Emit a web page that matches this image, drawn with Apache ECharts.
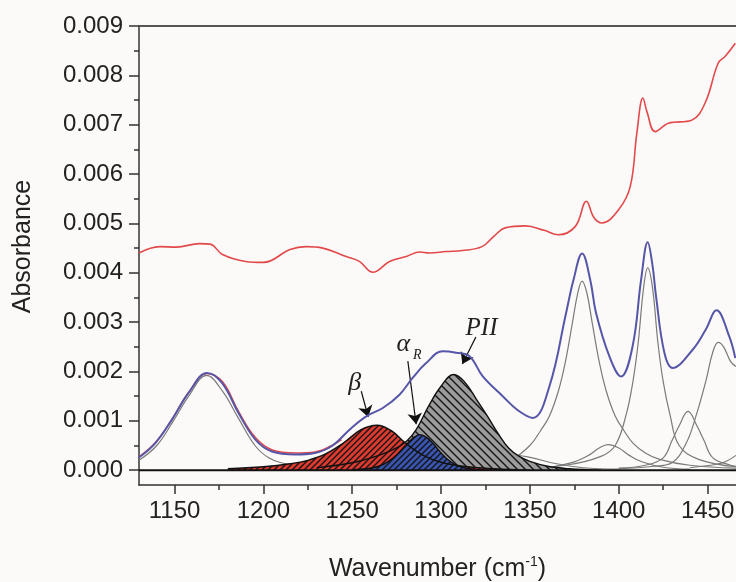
<!DOCTYPE html>
<html>
<head>
<meta charset="utf-8">
<script src="https://cdn.jsdelivr.net/npm/echarts@6/dist/echarts.min.js"></script>
<style>
  html, body { margin: 0; padding: 0; background: #fcfaf8; }
  #chart { width: 736px; height: 582px; }
</style>
</head>
<body>
<div id="chart"></div>
<script>
// axis ticks
const xMajor = [1150, 1200, 1250, 1300, 1350, 1400, 1450];
const xMinor = [1175, 1225, 1275, 1325, 1375, 1425];
const yMajor = [0, 0.001, 0.002, 0.003, 0.004, 0.005, 0.006, 0.007, 0.008, 0.009];
const yMinor = [0.0005, 0.0015, 0.0025, 0.0035, 0.0045, 0.0055, 0.0065, 0.0075, 0.0085];

// measured spectrum (offset, upper red trace)
const rawSpectrum = [
  [1130, 0.00440], [1141.7, 0.00453], [1151, 0.00452], [1164, 0.00459], [1170, 0.00458],
  [1177, 0.00437], [1190, 0.00423], [1200, 0.00421], [1215, 0.00447], [1224, 0.00453],
  [1233.5, 0.00450], [1246.6, 0.00433], [1254, 0.00423], [1261.6, 0.00401], [1271, 0.00423],
  [1280.4, 0.00433], [1288, 0.00442], [1293.5, 0.00440], [1303, 0.00443], [1312, 0.00445],
  [1323, 0.00453], [1330, 0.00475], [1336, 0.00491], [1347.5, 0.00495], [1358, 0.00486],
  [1366, 0.00477], [1375.6, 0.00494], [1381.8, 0.00545], [1386, 0.00512], [1390.5, 0.00501],
  [1400, 0.00528], [1406.5, 0.00575], [1410.2, 0.00683], [1413.6, 0.00754], [1416, 0.00725],
  [1420.5, 0.00686], [1428, 0.00703], [1441, 0.00709], [1448.6, 0.00744], [1456, 0.00825],
  [1459.8, 0.00838], [1465.6, 0.00865]
];

// measured spectrum (baseline corrected, visible part under the fit)
const dataSpectrum = [
  [1130, 0.00027], [1139, 0.00055], [1148.6, 0.00103], [1158, 0.00158], [1168.3, 0.00196],
  [1177, 0.00179], [1186, 0.00119], [1195.5, 0.00066], [1205, 0.00041], [1218, 0.00035],
  [1229, 0.00037], [1238.6, 0.00050], [1244, 0.00062]
];

// fitted sum
const fitSum = [
  [1130, 0.00026], [1139.2, 0.00055], [1148.6, 0.00103], [1158, 0.00157], [1168.3, 0.00197],
  [1176.7, 0.00177], [1186, 0.00116], [1195.5, 0.00062], [1204.8, 0.00038], [1218, 0.00032],
  [1229, 0.00035], [1238.6, 0.00049], [1248.5, 0.00082], [1257.9, 0.00109], [1267.2, 0.00126],
  [1276.6, 0.00153], [1284, 0.00187], [1291.6, 0.00217], [1301, 0.00241], [1308.5, 0.00238],
  [1316, 0.00231], [1323.5, 0.00190], [1334.7, 0.00150], [1343, 0.00122], [1351.6, 0.00106],
  [1361, 0.00170], [1370.4, 0.00319], [1374.5, 0.00385], [1379.4, 0.00439], [1384, 0.00385],
  [1387.2, 0.00319], [1394.7, 0.00231], [1401.3, 0.00190], [1407.8, 0.00251], [1412.6, 0.00386],
  [1416.3, 0.00462], [1419, 0.00415], [1421, 0.00352], [1425.7, 0.00238], [1430.3, 0.00207],
  [1441.6, 0.00244], [1449, 0.00285], [1455, 0.00324], [1462.2, 0.00271], [1465.6, 0.00227]
];

// hatched bands
const betaBand = [
  [1180, 0.00003], [1200, 0.00007], [1215, 0.00013], [1225, 0.00020], [1235, 0.00033],
  [1245, 0.00055], [1255, 0.00082], [1264, 0.00091], [1272, 0.00080], [1280, 0.00055],
  [1290, 0.00030], [1300, 0.00016], [1315, 0.00007], [1330, 0.00003], [1350, 0]
];
const alphaBand = [
  [1250, 0.00001], [1260, 0.00004], [1265, 0.00008], [1270, 0.00017], [1275, 0.00031],
  [1280, 0.00050], [1284, 0.00064], [1288, 0.00072], [1292, 0.00066], [1296, 0.00052],
  [1300, 0.00035], [1305, 0.00018], [1310, 0.00008], [1318, 0.00002], [1330, 0]
];
const ppiiBand = [
  [1230, 0.00005], [1250, 0.00015], [1265, 0.00030], [1275, 0.00045], [1281, 0.00060],
  [1286, 0.00082], [1293, 0.00130], [1300, 0.00170], [1307, 0.00194], [1313, 0.00180],
  [1320, 0.00143], [1326, 0.00110], [1332, 0.00075], [1338, 0.00045], [1344, 0.00028],
  [1350, 0.00018], [1360, 0.00008], [1372, 0.00003], [1390, 0]
];

// other fitted components (grey)
const band1168 = [
  [1130, 0.00020], [1140, 0.00050], [1149, 0.00098], [1158, 0.00150], [1168, 0.00192],
  [1177, 0.00160], [1186, 0.00105], [1195.5, 0.00049], [1203, 0.00025], [1210, 0.00015],
  [1225, 0.00006], [1250, 0.00002], [1280, 0]
];
const band1342 = [
  [1300, 0.00003], [1320, 0.00010], [1335, 0.00024], [1342, 0.00030], [1350, 0.00026],
  [1365, 0.00013], [1380, 0.00005], [1400, 0.00002]
];
const band1379 = [
  [1300, 0.00005], [1330, 0.00012], [1340, 0.00022], [1350, 0.00050], [1356, 0.00080],
  [1361, 0.00110], [1366, 0.00160], [1370, 0.00220], [1374, 0.00300], [1377, 0.00360],
  [1379.4, 0.00383], [1382, 0.00360], [1385, 0.00300], [1389, 0.00220], [1393, 0.00160],
  [1398, 0.00110], [1403, 0.00080], [1408, 0.00055], [1415, 0.00035], [1423, 0.00022],
  [1440, 0.00010], [1466, 0.00004]
];
const band1394 = [
  [1360, 0.00005], [1375, 0.00017], [1383, 0.00030], [1389, 0.00045], [1394, 0.00052],
  [1400, 0.00045], [1406, 0.00030], [1413, 0.00017], [1425, 0.00006], [1440, 0.00002]
];
const band1416 = [
  [1340, 0.00004], [1370, 0.00010], [1390, 0.00028], [1398, 0.00050], [1404, 0.00110],
  [1408, 0.00180], [1411, 0.00260], [1414, 0.00370], [1416.3, 0.00410], [1419, 0.00370],
  [1422, 0.00260], [1425, 0.00180], [1429, 0.00110], [1434, 0.00050], [1445, 0.00022],
  [1466, 0.00007]
];
const band1439 = [
  [1400, 0.00004], [1415, 0.00010], [1425, 0.00025], [1430, 0.00060], [1434, 0.00090],
  [1439, 0.00119], [1444, 0.00090], [1448, 0.00060], [1453, 0.00025], [1463, 0.00010],
  [1466, 0.00008]
];
const band1456 = [
  [1400, 0.00003], [1420, 0.00008], [1430, 0.00015], [1438, 0.00055], [1443.5, 0.00110],
  [1449, 0.00180], [1453, 0.00240], [1456, 0.00259], [1459, 0.00250], [1463, 0.00220],
  [1466, 0.00210]
];
const band1480 = [
  [1440, 0.00005], [1455, 0.00012], [1460, 0.00017], [1466, 0.00030]
];

// annotation anchors (data coordinates)
const labelBeta = [1251.4, 0.00177];
const labelAlpha = [1278.8, 0.00256];
const labelAlphaSub = [1286.6, 0.00232];
const labelPII = [1322.8, 0.00287];
const arrowBeta = [[1255.1, 0.00160], [1259.0, 0.00108]];
const arrowAlpha = [[1281.3, 0.00221], [1286.0, 0.00093]];
const arrowPII = [[1319.6, 0.00270], [1312.0, 0.00215]];

function hatch(bg, dir, size) {
  const c = document.createElement('canvas');
  c.width = size; c.height = size;
  const g = c.getContext('2d');
  g.fillStyle = bg;
  g.fillRect(0, 0, size, size);
  g.strokeStyle = '#151515';
  g.lineWidth = 1.4;
  g.beginPath();
  if (dir === '/') {
    g.moveTo(0, size); g.lineTo(size, 0);
    g.moveTo(-size / 2, size / 2); g.lineTo(size / 2, -size / 2);
    g.moveTo(size / 2, size * 1.5); g.lineTo(size * 1.5, size / 2);
  } else {
    g.moveTo(0, 0); g.lineTo(size, size);
    g.moveTo(-size / 2, size / 2); g.lineTo(size / 2, size * 1.5);
    g.moveTo(size / 2, -size / 2); g.lineTo(size * 1.5, size / 2);
  }
  g.stroke();
  return { image: c, repeat: 'repeat' };
}

const font = 'Liberation Sans, Arial, sans-serif';
const serif = 'Liberation Serif, Times New Roman, serif';

function greyLine(data) {
  return {
    type: 'line', data: data, smooth: 0.4, symbol: 'none', z: 2,
    lineStyle: { color: '#7a7a7a', width: 1.2 }
  };
}
function bandArea(data, pattern, z) {
  return {
    type: 'line', data: data, smooth: 0.4, symbol: 'none', z: z,
    lineStyle: { color: '#111', width: 1.4 },
    areaStyle: { color: pattern, opacity: 1 }
  };
}
function textMark(coord, text, size, italic) {
  return {
    coord: coord, value: text,
    label: {
      show: true, position: 'inside', formatter: text,
      fontFamily: serif, fontStyle: italic ? 'italic' : 'normal',
      fontSize: size, color: '#222'
    }
  };
}

const myChart = echarts.init(document.getElementById('chart'));

const option = {
  animation: false,
  backgroundColor: '#fcfaf8',
  grid: { left: 139, right: 0, top: 26, bottom: 97, outerBoundsMode: 'none', containLabel: false },
  xAxis: [
    {
      type: 'value', min: 1130, max: 1466, position: 'bottom',
      name: 'Wavenumber (cm{sup|-1})',
      nameLocation: 'middle', nameGap: 70,
      nameTextStyle: {
        fontFamily: font, fontSize: 25, color: '#222',
        rich: { sup: { fontFamily: font, fontSize: 14, color: '#222', padding: [0, 0, 14, 0] } }
      },
      axisLine: { show: true, onZero: false, lineStyle: { color: '#333', width: 1.5 } },
      axisTick: { show: true, customValues: xMajor, length: 9, inside: false, lineStyle: { color: '#333', width: 1.5 } },
      axisLabel: {
        customValues: xMajor, margin: 14, fontFamily: font, fontSize: 24, color: '#222',
        formatter: v => String(v)
      },
      splitLine: { show: false }
    },
    {
      type: 'value', min: 1130, max: 1466, position: 'bottom',
      axisLine: { show: false, onZero: false },
      axisTick: { show: true, customValues: xMinor, length: 5, lineStyle: { color: '#333', width: 1.5 } },
      axisLabel: { show: false },
      splitLine: { show: false }
    },
    {
      type: 'value', min: 1130, max: 1466, position: 'top',
      axisLine: { show: true, onZero: false, lineStyle: { color: '#555', width: 2 } },
      axisTick: { show: false },
      axisLabel: { show: false },
      splitLine: { show: false }
    }
  ],
  yAxis: [
    {
      type: 'value', min: -0.0003, max: 0.009,
      name: 'Absorbance', nameLocation: 'middle', nameGap: 103, nameRotate: 90,
      nameTextStyle: { fontFamily: font, fontSize: 25, color: '#222', padding: [0, 0, 0, 18] },
      axisLine: { show: true, onZero: false, lineStyle: { color: '#333', width: 1.5 } },
      axisTick: { show: true, customValues: yMajor, length: 10, lineStyle: { color: '#333', width: 1.5 } },
      axisLabel: {
        customValues: yMajor, margin: 16, fontFamily: font, fontSize: 24, color: '#222',
        formatter: v => v.toFixed(3)
      },
      splitLine: { show: false }
    },
    {
      type: 'value', min: -0.0003, max: 0.009, position: 'left',
      axisLine: { show: false, onZero: false },
      axisTick: { show: true, customValues: yMinor, length: 5, lineStyle: { color: '#333', width: 1.5 } },
      axisLabel: { show: false },
      splitLine: { show: false }
    }
  ],
  series: [
    greyLine(band1168),
    greyLine(band1342),
    greyLine(band1379),
    greyLine(band1394),
    greyLine(band1416),
    greyLine(band1439),
    greyLine(band1456),
    greyLine(band1480),
    bandArea(ppiiBand, hatch('#9c9c9c', '\\', 8), 3),
    bandArea(betaBand, hatch('#de3a30', '/', 6), 3),
    bandArea(alphaBand, hatch('#3a55b0', '/', 6), 3),
    {
      type: 'line', data: dataSpectrum, smooth: 0.4, symbol: 'none', z: 4,
      lineStyle: { color: '#e0474a', width: 1.5 }
    },
    {
      type: 'line', data: fitSum, smooth: 0.4, symbol: 'none', z: 5,
      lineStyle: { color: '#5656a8', width: 2 }
    },
    {
      type: 'line', data: rawSpectrum, smooth: 0.4, symbol: 'none', z: 5,
      lineStyle: { color: '#e2494b', width: 1.6 }
    },
    {
      type: 'line', data: [[1130, 0], [1466, 0]], symbol: 'none', z: 6,
      lineStyle: { color: '#111', width: 2 },
      markLine: {
        silent: true, animation: false,
        symbol: ['none', 'arrow'], symbolSize: 11,
        lineStyle: { color: '#111', width: 1.2, type: 'solid' },
        label: { show: false },
        data: [
          [{ coord: arrowBeta[0] }, { coord: arrowBeta[1] }],
          [{ coord: arrowAlpha[0] }, { coord: arrowAlpha[1] }],
          [{ coord: arrowPII[0] }, { coord: arrowPII[1] }]
        ]
      },
      markPoint: {
        silent: true, animation: false,
        symbol: 'rect', symbolSize: 1,
        itemStyle: { color: 'rgba(0,0,0,0)' },
        data: [
          textMark(labelBeta, 'β', 26, true),
          textMark(labelAlpha, 'α', 26, true),
          textMark(labelAlphaSub, 'R', 14, true),
          textMark(labelPII, 'PII', 25, true)
        ]
      }
    }
  ]
};

myChart.setOption(option);
</script>
</body>
</html>
